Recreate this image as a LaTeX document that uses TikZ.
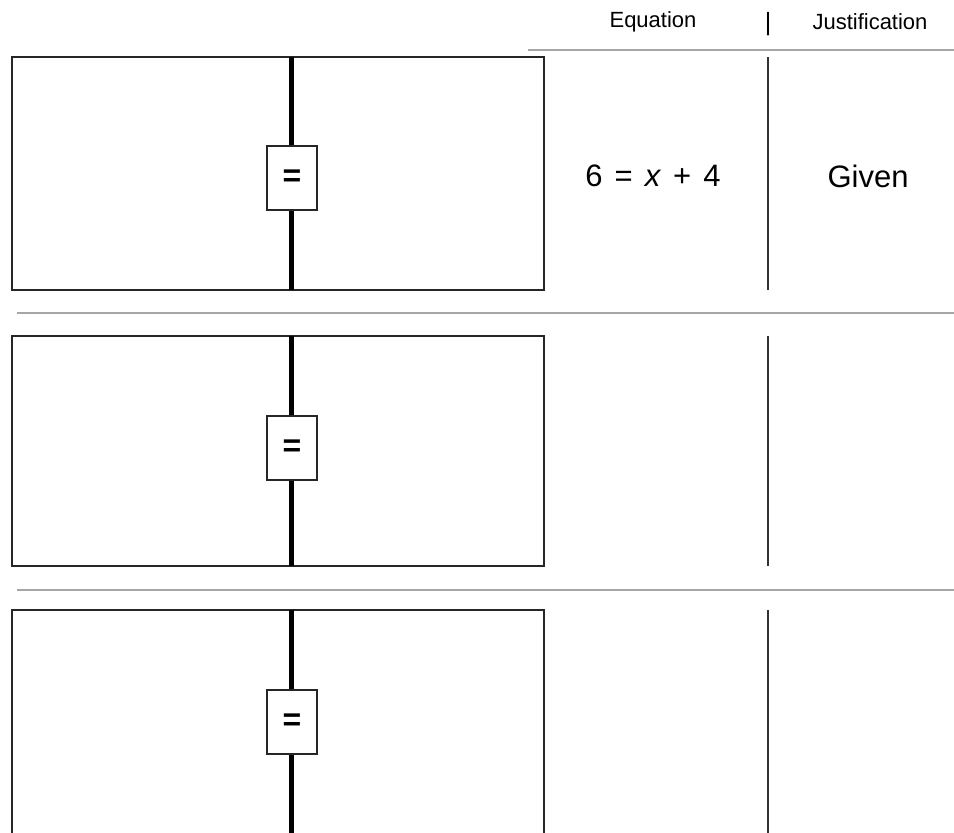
\documentclass[tikz,border=0pt]{standalone}
\usepackage{fontspec}
\setmainfont{Liberation Sans}
\begin{document}
\begin{tikzpicture}[x=1pt, y=-1pt, line join=miter,
  frame/.style={draw=black!85, line width=1.5pt},
  balance/.style={line width=5pt},
  eqbox/.style={draw=black!85, fill=white, line width=1.5pt, minimum width=50pt, minimum height=64pt, inner sep=0pt, font=\fontsize{32}{32}\selectfont\bfseries},
  rule/.style={draw=black!35, line width=1.5pt},
  colline/.style={draw=black!80, line width=1.5pt},
  head/.style={font=\fontsize{22}{24}\selectfont},
  entry/.style={font=\fontsize{31}{34}\selectfont}]
\useasboundingbox (0,0) rectangle (954,833);
\clip (0,0) rectangle (954,833);
% header
\node[head] (eqhead) at (653,22) {Equation};
\node[head, font=\fontsize{25}{26}\selectfont] (bar) at (768,24) {|};
\node[head] (jushead) at (870,22) {Justification};
\draw[rule] (528,50) -- (954,50);
% rows: top/bottom/centre of the = box
\foreach \t/\b/\m/\n in {57/290/178/1, 336/566/448/2, 610/860/722/3}{
  \draw[frame] (12,\t) rectangle (544,\b);
  \draw[balance] (291,\t) -- (291,\b);
  \node[eqbox] (eq\n) at (292,\m) {=};
  \draw[colline] (768,\t) -- (768,\b);
}
% separators
\draw[rule] (17,313) -- (954,313);
\draw[rule] (17,590) -- (954,590);
% first row
\node[entry] (start) at (653,176) {6\hspace{12pt}=\hspace{12pt}\textit{x}\hspace{12pt}+\hspace{12pt}4};
\node[entry] (given) at (868,176) {Given};
\end{tikzpicture}
\end{document}
